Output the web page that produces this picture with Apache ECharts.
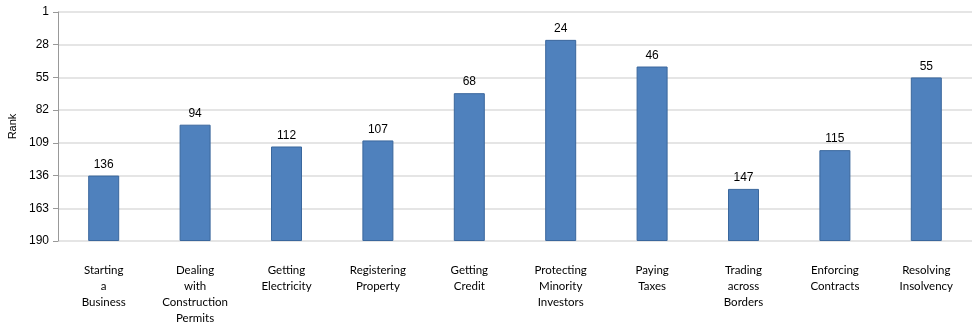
<!DOCTYPE html>
<html><head><meta charset="utf-8">
<script src="https://cdn.jsdelivr.net/npm/echarts@6/dist/echarts.min.js"></script>
<style>html,body{margin:0;padding:0;background:#fff}#c{width:975px;height:326px}</style>
</head><body><div id="c"></div>
<script>
const categories = ["Starting\na\nBusiness","Dealing\nwith\nConstruction\nPermits","Getting\nElectricity","Registering\nProperty","Getting\nCredit","Protecting\nMinority\nInvestors","Paying\nTaxes","Trading\nacross\nBorders","Enforcing\nContracts","Resolving\nInsolvency"];
const ranks = [136,94,112,107,68,24,46,147,115,55];
const rankMax = 190;
const tickStep = 27;

const chart = echarts.init(document.getElementById('c'));
chart.setOption({
  animation:false,
  grid:{left:58,right:3,top:12,bottom:85,containLabel:false,outerBoundsMode:'none'},
  xAxis:{type:'category',data:categories,
    axisLine:{show:false},axisTick:{show:false},
    axisLabel:{interval:0,margin:21,color:'#000',fontFamily:'Lato',fontSize:11.5,lineHeight:16,align:'center'}},
  yAxis:{type:'value',min:0,max:rankMax-1,interval:tickStep,
    name:'Rank',nameLocation:'middle',nameGap:40,nameRotate:90,
    nameTextStyle:{color:'#000',fontFamily:'Liberation Sans',fontSize:11},
    axisLine:{show:true,lineStyle:{color:'#999',width:1}},
    axisTick:{show:true,length:5,lineStyle:{color:'#999'}},
    axisLabel:{color:'#000',fontFamily:'Liberation Sans',fontSize:12,margin:9,
      formatter:v=>String(rankMax-v)},
    splitLine:{show:true,lineStyle:{color:'#e5e5e5',width:2}}},
  series:[{type:'bar',data:ranks.map(r=>rankMax-r),barWidth:31,
    itemStyle:{color:'#4F81BD',borderColor:'#3A679D',borderWidth:1},
    label:{show:true,position:'top',distance:5,color:'#000',fontFamily:'Liberation Sans',fontSize:12,
      formatter:p=>String(ranks[p.dataIndex])}}]
});
</script></body></html>
